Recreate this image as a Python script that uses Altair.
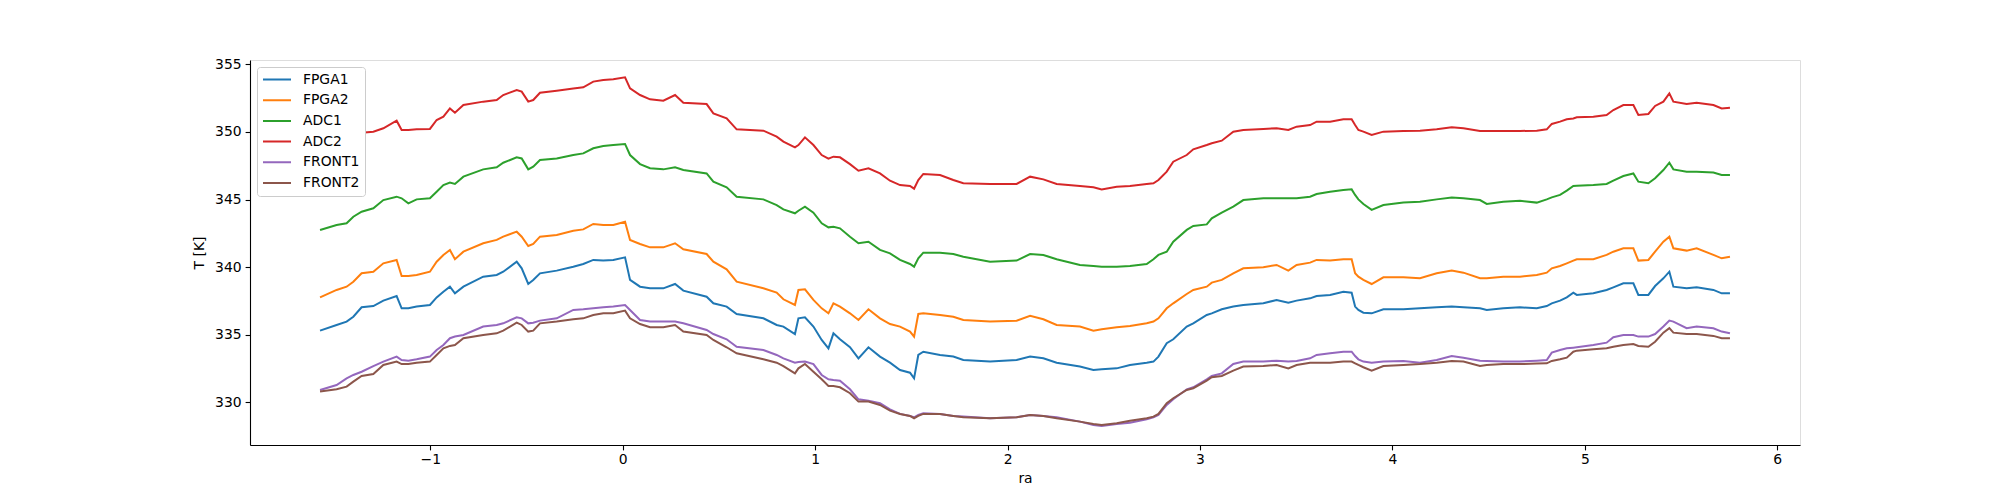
import altair as alt
import pandas as pd

ra = [
    -1.573, -1.487, -1.435, -1.400, -1.357, -1.296, -1.244, -1.175, -1.149, -1.114, -1.071,
    -1.002, -0.967, -0.932, -0.898, -0.872, -0.828, -0.725, -0.655, -0.621, -0.551, -0.525,
    -0.491, -0.465, -0.430, -0.343, -0.257, -0.205, -0.153, -0.101, -0.049, 0.012, 0.038,
    0.090, 0.142, 0.211, 0.272, 0.315, 0.436, 0.471, 0.540, 0.592, 0.731, 0.800, 0.835,
    0.895, 0.913, 0.947, 0.991, 1.034, 1.069, 1.095, 1.129, 1.181, 1.225, 1.277, 1.337,
    1.389, 1.441, 1.493, 1.514, 1.536, 1.562, 1.649, 1.718, 1.770, 1.909, 2.047,
    2.117, 2.186, 2.255, 2.376, 2.446, 2.489, 2.567, 2.636, 2.723, 2.758, 2.784, 2.827,
    2.861, 2.931, 2.965, 3.035, 3.061, 3.113, 3.173, 3.225, 3.329, 3.398, 3.459, 3.502,
    3.572, 3.606, 3.676, 3.745, 3.788, 3.806, 3.823, 3.849, 3.892, 3.953, 4.057,
    4.143, 4.230, 4.308, 4.369, 4.455, 4.490, 4.576, 4.663, 4.750, 4.802, 4.828, 4.871,
    4.906, 4.940, 4.958, 5.044, 5.113, 5.148, 5.200, 5.252, 5.278, 5.330, 5.365, 5.408,
    5.439, 5.460, 5.529, 5.581, 5.668, 5.711, 5.754,
]

fpga1 = [
    335.30, 335.72, 335.97, 336.33, 337.03, 337.12, 337.52, 337.86, 336.95, 336.95, 337.08,
    337.20, 337.76, 338.18, 338.55, 338.06, 338.55, 339.29, 339.42, 339.66, 340.40, 339.91,
    338.75, 339.05, 339.54, 339.74, 340.03, 340.23, 340.53, 340.48, 340.53, 340.72, 339.05,
    338.55, 338.43, 338.43, 338.75, 338.26, 337.81, 337.32, 337.08, 336.53, 336.21, 335.72,
    335.60, 335.05, 336.21, 336.29, 335.60, 334.61, 333.99, 335.10, 334.66, 334.07, 333.25,
    334.07, 333.38, 332.93, 332.39, 332.19, 331.77, 333.50, 333.74, 333.50, 333.38, 333.13,
    333.01, 333.13,
    333.38, 333.25, 332.93, 332.64, 332.39, 332.44, 332.51, 332.76, 332.93, 333.01, 333.38,
    334.37, 334.66, 335.60, 335.84, 336.46, 336.58, 336.88, 337.08, 337.20, 337.32, 337.57,
    337.37, 337.52, 337.69, 337.86, 337.94, 338.18, 338.11, 337.08, 336.83, 336.63, 336.58,
    336.88, 336.88,
    336.95, 337.03, 337.08, 337.03, 336.95, 336.83, 336.95, 337.03, 336.95, 337.12, 337.32,
    337.52, 337.76, 338.11, 337.94, 338.06, 338.31, 338.50, 338.80, 338.80, 337.94, 337.94,
    338.60, 339.17, 339.66, 338.55, 338.43, 338.50, 338.31, 338.06, 338.06,
]

fpga2 = [
    337.76, 338.31, 338.55, 338.92, 339.54, 339.66, 340.28, 340.53, 339.34, 339.34, 339.42,
    339.66, 340.40, 340.90, 341.27, 340.58, 341.14, 341.76, 342.01, 342.25, 342.62, 342.25,
    341.56, 341.71, 342.25, 342.37, 342.69, 342.79, 343.19, 343.11, 343.11, 343.36, 342.01,
    341.71, 341.46, 341.46, 341.76, 341.32, 340.97, 340.40, 339.84, 338.92, 338.43, 338.11,
    337.62, 337.20, 338.31, 338.36, 337.57, 336.95, 336.58, 337.32, 337.08, 336.58, 336.09,
    336.88, 336.21, 335.79, 335.60, 335.23, 334.86, 336.53, 336.58, 336.46, 336.33, 336.09,
    335.97, 336.04,
    336.39, 336.14, 335.72, 335.60, 335.30, 335.40, 335.55, 335.65, 335.84, 335.97, 336.21,
    336.95, 337.32, 338.01, 338.31, 338.55, 338.85, 339.05, 339.54, 339.91, 339.99, 340.16,
    339.74, 340.16, 340.33, 340.53, 340.48, 340.58, 340.58, 339.54, 339.29, 339.05, 338.75,
    339.24, 339.24,
    339.17, 339.54, 339.74, 339.59, 339.17, 339.17, 339.29, 339.29, 339.42, 339.59, 339.91,
    340.08, 340.28, 340.48, 340.58, 340.58, 340.90, 341.14, 341.39, 341.39, 340.48, 340.53,
    341.14, 341.88, 342.25, 341.39, 341.22, 341.39, 340.90, 340.65, 340.77,
]

adc1 = [
    342.74, 343.11, 343.24, 343.73, 344.10, 344.35, 344.96, 345.21, 345.09, 344.72, 345.01,
    345.09, 345.58, 346.07, 346.25, 346.15, 346.69, 347.23, 347.38, 347.72, 348.12, 348.04,
    347.23, 347.43, 347.92, 348.04, 348.29, 348.41, 348.79, 348.96, 349.03, 349.11, 348.29,
    347.62, 347.31, 347.23, 347.38, 347.18, 346.93, 346.32, 345.90, 345.21, 345.01, 344.59,
    344.27, 343.98, 344.17, 344.47, 344.03, 343.24, 342.94, 342.99, 342.87, 342.25, 341.76,
    341.88, 341.27, 341.02, 340.53, 340.23, 340.03, 340.65, 341.07, 341.07, 340.97, 340.77,
    340.40, 340.48,
    340.97, 340.90, 340.58, 340.16, 340.08, 340.03, 340.03, 340.08, 340.23, 340.58, 340.90,
    341.14, 341.88, 342.75, 343.04, 343.16, 343.61, 344.03, 344.47, 344.96, 345.09, 345.09,
    345.09, 345.09, 345.21, 345.41, 345.58, 345.71, 345.75, 345.34, 345.01, 344.67, 344.23,
    344.59, 344.77,
    344.84, 345.01, 345.14, 345.09, 344.96, 344.67, 344.84, 344.91, 344.77, 345.01, 345.16,
    345.34, 345.66, 346.00, 346.02, 346.07, 346.15, 346.39, 346.74, 346.93, 346.32, 346.20,
    346.57, 347.18, 347.72, 347.23, 347.06, 347.06, 346.99, 346.81, 346.81,
]

adc2 = [
    348.17, 348.79, 349.03, 349.28, 349.94, 350.02, 350.27, 350.83, 350.14, 350.14, 350.19,
    350.22, 350.88, 351.13, 351.74, 351.42, 351.99, 352.24, 352.36, 352.73, 353.10, 352.98,
    352.24, 352.36, 352.90, 353.05, 353.22, 353.30, 353.72, 353.84, 353.89, 354.04, 353.22,
    352.73, 352.41, 352.31, 352.73, 352.16, 352.06, 351.37, 351.00, 350.19, 350.09, 349.65,
    349.28, 348.86, 349.03, 349.60, 349.03, 348.29, 348.02, 348.17, 348.12, 347.62, 347.13,
    347.31, 346.93, 346.39, 346.07, 346.00, 345.80, 346.44, 346.89, 346.81, 346.44, 346.20,
    346.15, 346.15,
    346.69, 346.49, 346.15, 346.00, 345.90, 345.75, 345.95, 346.00, 346.15, 346.20, 346.44,
    347.06, 347.80, 348.29, 348.71, 349.03, 349.16, 349.35, 350.02, 350.14, 350.22, 350.27,
    350.14, 350.39, 350.51, 350.76, 350.76, 350.93, 350.93, 350.51, 350.14, 350.02, 349.77,
    350.02, 350.07,
    350.09, 350.19, 350.34, 350.27, 350.07, 350.07, 350.07, 350.07, 350.09, 350.19, 350.59,
    350.76, 350.93, 351.00, 351.08, 351.13, 351.25, 351.62, 351.99, 351.99, 351.25, 351.33,
    351.92, 352.24, 352.85, 352.24, 352.06, 352.16, 351.99, 351.74, 351.79,
]

front1 = [
    330.91, 331.28, 331.77, 332.02, 332.26, 332.68, 333.01, 333.38, 333.13, 333.08, 333.18,
    333.38, 333.87, 334.24, 334.74, 334.86, 334.98, 335.60, 335.72, 335.84, 336.29, 336.21,
    335.84, 335.89, 336.04, 336.21, 336.83, 336.88, 336.95, 337.03, 337.08, 337.20, 336.83,
    336.09, 335.97, 335.97, 335.97, 335.84, 335.35, 335.05, 334.66, 334.11, 333.87, 333.50,
    333.25, 332.93, 332.98, 333.01, 332.83, 332.02, 331.70, 331.65, 331.60, 330.96, 330.22,
    330.12, 329.93, 329.48, 329.14, 328.99, 328.89, 329.06, 329.18, 329.14, 328.99, 328.94,
    328.82, 328.89,
    329.06, 328.99, 328.89, 328.57, 328.32, 328.25, 328.40, 328.49, 328.74, 328.89, 329.06,
    329.80, 330.22, 330.96, 331.11, 331.70, 331.95, 332.14, 332.83, 333.01, 333.01, 333.08,
    333.01, 333.06, 333.25, 333.50, 333.62, 333.74, 333.74, 333.42, 333.18, 333.01, 332.93,
    333.01, 333.06,
    332.93, 333.13, 333.42, 333.30, 333.08, 333.06, 333.01, 333.01, 333.08, 333.13, 333.67,
    333.87, 333.99, 334.04, 334.07, 334.24, 334.41, 334.81, 334.98, 334.98, 334.86, 334.86,
    335.05, 335.60, 336.04, 335.97, 335.48, 335.60, 335.48, 335.23, 335.10,
]

front2 = [
    330.79, 330.96, 331.16, 331.53, 331.95, 332.09, 332.76, 333.01, 332.83, 332.83, 332.93,
    333.01, 333.50, 333.99, 334.17, 334.24, 334.74, 334.98, 335.10, 335.30, 335.89, 335.72,
    335.23, 335.30, 335.84, 335.97, 336.14, 336.21, 336.46, 336.58, 336.58, 336.78, 336.21,
    335.79, 335.55, 335.55, 335.72, 335.23, 334.98, 334.61, 334.07, 333.62, 333.18, 332.93,
    332.68, 332.14, 332.51, 332.83, 332.26, 331.70, 331.21, 331.21, 331.11, 330.67, 330.05,
    330.05, 329.80, 329.38, 329.14, 328.99, 328.82, 328.99, 329.14, 329.14, 328.99, 328.89,
    328.82, 328.89,
    329.06, 328.99, 328.82, 328.57, 328.40, 328.32, 328.45, 328.64, 328.82, 328.94, 329.14,
    329.93, 330.30, 330.91, 331.04, 331.60, 331.85, 331.95, 332.34, 332.64, 332.68, 332.76,
    332.51, 332.76, 332.93, 332.93, 332.93, 333.01, 333.01, 332.88, 332.76, 332.59, 332.34,
    332.68, 332.76,
    332.83, 332.93, 333.06, 333.01, 332.68, 332.76, 332.83, 332.83, 332.86, 332.88, 333.06,
    333.18, 333.30, 333.74, 333.82, 333.92, 333.99, 334.11, 334.24, 334.31, 334.17, 334.11,
    334.48, 335.15, 335.48, 335.15, 335.05, 335.05, 334.91, 334.74, 334.74,
]

series_names = ["FPGA1", "FPGA2", "ADC1", "ADC2", "FRONT1", "FRONT2"]
series_values = [fpga1, fpga2, adc1, adc2, front1, front2]
colors = ["#1f77b4", "#ff7f0e", "#2ca02c", "#d62728", "#9467bd", "#8c564b"]
x_ticks = [-1, 0, 1, 2, 3, 4, 5, 6]
y_ticks = [330, 335, 340, 345, 350, 355]

rows = []
for k, (name, vals) in enumerate(zip(series_names, series_values)):
    assert len(vals) == len(ra), (name, len(vals), len(ra))
    for i, (xv, yv) in enumerate(zip(ra, vals)):
        rows.append({"ra": xv, "T": yv, "series": name, "idx": i})
df = pd.DataFrame(rows)

FONT = "DejaVu Sans"
FS = 13.9

axis_style = dict(
    grid=False, tickSize=4.9, tickColor="black", tickWidth=1.1,
    domainColor="black", domainWidth=1.1,
    labelFont=FONT, labelFontSize=FS, labelColor="black",
    titleFont=FONT, titleFontSize=FS, titleColor="black", titleFontWeight="normal",
)

chart = alt.Chart(df).mark_line(strokeWidth=2).encode(
    x=alt.X("ra:Q", title="ra",
            scale=alt.Scale(domain=[-1.937, 6.118], nice=False, zero=False),
            axis=alt.Axis(values=x_ticks, format="d", labelPadding=3, titlePadding=5,
                          **axis_style)),
    y=alt.Y("T:Q", title="T [K]",
            scale=alt.Scale(domain=[326.84, 355.32], nice=False, zero=False),
            axis=alt.Axis(values=y_ticks, format="d", labelPadding=4, titlePadding=8,
                          **axis_style)),
    color=alt.Color("series:N",
                    scale=alt.Scale(domain=series_names, range=colors),
                    sort=series_names,
                    legend=alt.Legend(title=None, orient="none", legendX=7, legendY=7,
                                      symbolType="stroke", symbolSize=784,
                                      symbolStrokeWidth=2, clipHeight=15,
                                      rowPadding=5.7, labelOffset=11,
                                      padding=5, fillColor="white",
                                      strokeColor="#cccccc", cornerRadius=3,
                                      labelFontSize=FS, labelFont=FONT,
                                      labelColor="black")),
    order=alt.Order("idx:Q"),
).properties(
    width=1550, height=385,
    autosize=alt.AutoSizeParams(type="none"),
    padding={"left": 242, "top": 52, "right": 192, "bottom": 47},
).configure_view(
    stroke="black", strokeWidth=1.1
).configure(background="white")

chart.save("out.html", embed_options={"renderer": "svg", "actions": False})
